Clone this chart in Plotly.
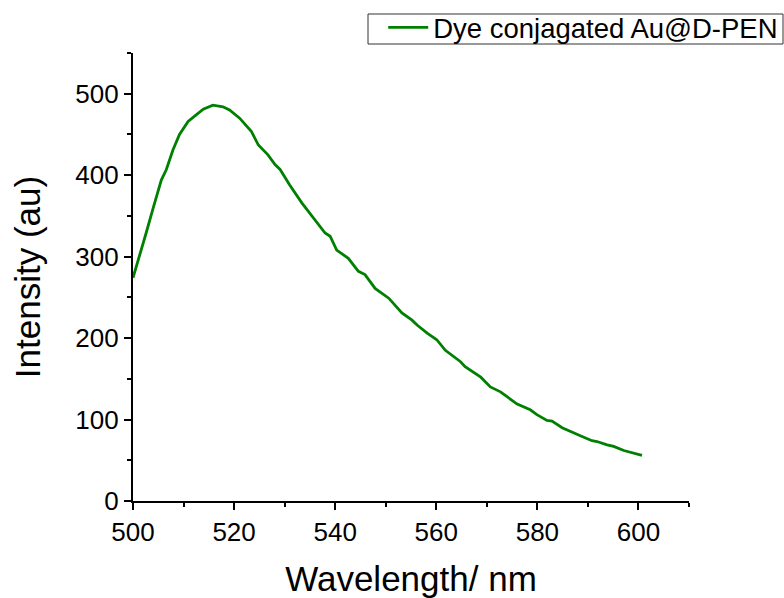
import plotly.graph_objects as go

wavelength = [500.0, 501.3, 502.6, 504.0, 505.6, 506.6, 507.9, 509.2, 510.9, 512.5, 513.9,
              515.8, 517.8, 519.1, 521.1, 523.4, 524.8, 526.7, 528.1, 529.1, 531.0, 533.4,
              535.7, 538.0, 539.0, 540.3, 542.6, 544.6, 545.9, 547.9, 550.6, 553.2, 555.2,
              556.2, 558.2, 560.1, 561.8, 564.8, 565.7, 568.8, 570.7, 572.7, 574.0, 576.0,
              578.6, 579.9, 581.9, 582.9, 584.9, 586.9, 588.5, 590.8, 591.8, 593.8, 595.1,
              597.1, 600.7]
intensity = [274, 300, 329, 360, 394, 407, 431, 450, 466, 474, 481,
             486, 484, 480, 470, 454, 437, 425, 413, 407, 388, 366,
             347, 329, 325, 308, 298, 282, 278, 261, 249, 231, 222,
             216, 206, 198, 185, 171, 165, 152, 140, 134, 128, 119,
             112, 106, 99, 98, 90, 84, 80, 74, 73, 69, 67,
             62, 56]

series_name = "Dye conjagated Au@D-PEN"
x_title = "Wavelength/ nm"
y_title = "Intensity (au)"

FONT = "Liberation Sans, Arial, sans-serif"

fig = go.Figure()
fig.add_trace(go.Scatter(x=wavelength, y=intensity, mode="lines", name=series_name,
                         line=dict(color="#008000", width=2.8)))

axis_common = dict(showline=True, linecolor="black", linewidth=2.2, ticks="outside",
                   tickwidth=2, tickcolor="black", ticklen=7, showgrid=False, zeroline=False,
                   tickfont=dict(family=FONT, size=26, color="black"), mirror=False)

fig.update_xaxes(range=[500, 610], dtick=20, tick0=500,
                 title=dict(text=x_title, font=dict(family=FONT, size=35, color="black"), standoff=26),
                 minor=dict(dtick=10, ticks="outside", ticklen=4, tickwidth=2, tickcolor="black", showgrid=False),
                 **axis_common)
fig.update_yaxes(range=[0, 550], dtick=100, tick0=0,
                 title=dict(text=y_title, font=dict(family=FONT, size=35, color="black"), standoff=24),
                 minor=dict(dtick=50, ticks="outside", ticklen=4, tickwidth=2, tickcolor="black", showgrid=False),
                 **axis_common)

# legend frame drawn as a compact box (paper coordinates; plot area spans 133..689 x 53..501 px)
fig.add_shape(type="rect", xref="paper", yref="paper",
              x0=(368 - 133) / 556, x1=(783 - 133) / 556,
              y0=(501 - 44) / 448, y1=(501 - 14) / 448,
              line=dict(color="#333333", width=1), fillcolor="rgba(0,0,0,0)", layer="above")

fig.update_layout(
    width=784, height=598,
    margin=dict(l=133, r=95, t=53, b=97, autoexpand=False),
    paper_bgcolor="white", plot_bgcolor="white",
    showlegend=True,
    legend=dict(xref="container", yref="container", x=0.999, y=0.995, xanchor="right", yanchor="top",
                borderwidth=0, bgcolor="rgba(0,0,0,0)",
                font=dict(family=FONT, size=27.5, color="black"),
                itemwidth=40, tracegroupgap=0),
)

fig.write_html("out.html")
